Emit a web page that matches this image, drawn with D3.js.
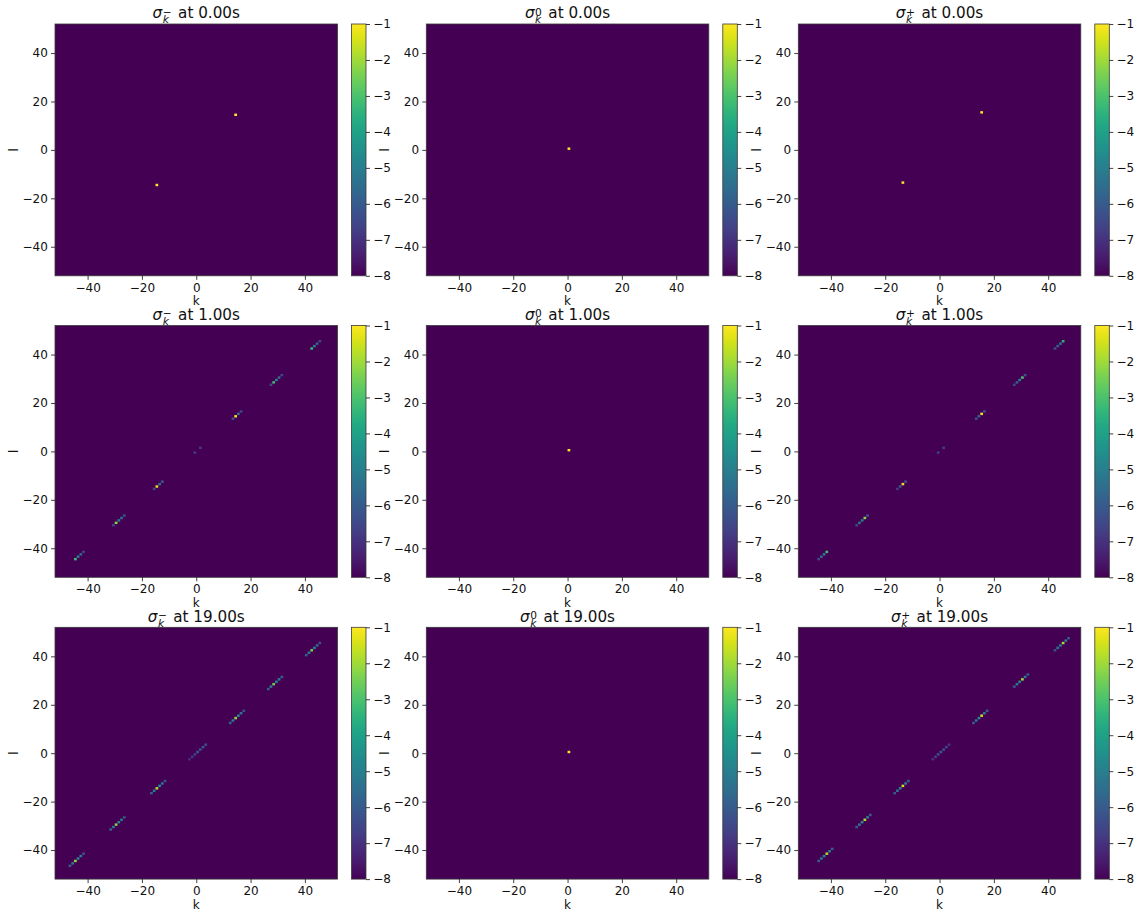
<!DOCTYPE html>
<html><head><meta charset="utf-8">
<script src="https://cdn.jsdelivr.net/npm/d3@7"></script>
<style>body{margin:0;background:#fff} text{font-family:"DejaVu Sans",sans-serif}</style>
</head><body><svg id="c" width="1140" height="912"></svg>
<script>
// ---------------- data ----------------
const times = ["0.00", "1.00", "19.00"];
const species = ["−", "0", "+"];
const kDomain = [-52, 52];
const xTicks = [-40, -20, 0, 20, 40];
const yTicks = [-40, -20, 0, 20, 40];
const cbarTicks = [-1, -2, -3, -4, -5, -6, -7, -8];
const vmin = -8, vmax = -1;          // colour range (log10 scale)
const floorValue = -8;               // value of every cell not listed below

// diagonal cells (k = l): cell index n spans [n, n+1]; values are log10
const minus_t0_k = [14, -15];
const minus_t0_v = [-1, -1];
const minus_t1_k = [-45,-44,-43,-42, -31,-30,-29,-28,-27, -16,-15,-14,-13, -1,1, 13,14,15,16, 27,28,29,30,31, 42,43,44,45];
const minus_t1_v = [-3.2,-5.0,-5.6,-6.5, -6.5,-2.2,-5.0,-5.5,-6.3, -6.5,-1.3,-5.5,-6.0, -6.8,-6.8, -6.3,-1.2,-5.5,-6.5, -6.5,-3.2,-5.0,-5.5,-6.5, -3.3,-5.0,-5.6,-6.5];
const minus_t19_k = [-47,-46,-45,-44,-43,-42, -32,-31,-30,-29,-28,-27, -17,-16,-15,-14,-13,-12, -3,-2,-1,0,1,2,3, 12,13,14,15,16,17, 26,27,28,29,30,31, 40,41,42,43,44,45];
const minus_t19_v = [-6.0,-5.0,-2.2,-4.8,-5.2,-6.2, -5.8,-5.0,-2.2,-4.8,-5.2,-6.2, -5.8,-5.0,-1.8,-4.6,-5.2,-6.2, -7.2,-6.8,-6.6,-6.0,-6.2,-6.0,-6.4, -5.8,-5.0,-2.2,-4.8,-5.2,-6.2, -6.0,-5.0,-2.5,-4.8,-5.0,-6.0, -6.0,-5.0,-2.5,-4.8,-5.5,-6.3];

const zero_t0_k = [0];  const zero_t0_v = [-1];
const zero_t1_k = [0];  const zero_t1_v = [-1];
const zero_t19_k = [0]; const zero_t19_v = [-1];

const plus_t0_k = [15, -14];
const plus_t0_v = [-1, -1];
const plus_t1_k = [-45,-44,-43,-42, -31,-30,-29,-28,-27, -16,-15,-14,-13, -1,1, 13,14,15,16, 27,28,29,30,31, 42,43,44,45];
const plus_t1_v = [-6.5,-5.5,-5.0,-3.2, -6.5,-5.5,-5.0,-2.3,-6.3, -6.8,-6.0,-1.3,-6.3, -6.7,-6.7, -6.2,-5.7,-1.2,-6.3, -6.5,-5.8,-5.0,-3.0,-6.3, -6.3,-5.8,-5.3,-3.5];
const plus_t19_k = [-45,-44,-43,-42,-41,-40, -31,-30,-29,-28,-27,-26, -17,-16,-15,-14,-13,-12, -3,-2,-1,0,1,2,3, 12,13,14,15,16,17, 27,28,29,30,31,32, 42,43,44,45,46,47];
const plus_t19_v = [-6.0,-5.2,-4.8,-1.8,-5.0,-6.0, -6.0,-5.2,-4.8,-1.8,-5.0,-6.0, -6.0,-5.2,-4.8,-1.5,-5.0,-6.0, -7.0,-6.6,-6.2,-6.0,-6.2,-6.6,-7.0, -6.0,-5.2,-4.8,-1.5,-5.0,-6.0, -6.0,-5.2,-4.8,-2.0,-5.0,-6.0, -6.2,-5.3,-5.0,-2.0,-5.0,-6.0];

const panelData = [
  [[minus_t0_k, minus_t0_v], [zero_t0_k, zero_t0_v], [plus_t0_k, plus_t0_v]],
  [[minus_t1_k, minus_t1_v], [zero_t1_k, zero_t1_v], [plus_t1_k, plus_t1_v]],
  [[minus_t19_k, minus_t19_v], [zero_t19_k, zero_t19_v], [plus_t19_k, plus_t19_v]]
];

// ---------------- layout ----------------
const colLeft = [55, 426.3, 798.3], plotW = 282.5;
const rowTop = [24, 325.5, 627.3], plotH = 251.8;
const cbGap = 14, cbW = 14.5;
const tickFont = 12, titleFont = 15.2;
const ink = "#111", spine = "#3a3a3a";

const svg = d3.select("#c");
const color = d3.scaleSequential(d3.interpolateViridis).domain([vmin, vmax]);
const x = d3.scaleLinear().domain(kDomain).range([0, plotW]);
const y = d3.scaleLinear().domain(kDomain).range([plotH, 0]);
const cb = d3.scaleLinear().domain([vmin, vmax]).range([plotH, 0]);
const fmt = d3.format("d");

// gradient for colorbar
const defs = svg.append("defs");
const grad = defs.append("linearGradient").attr("id", "vir").attr("x1", 0).attr("y1", 1).attr("x2", 0).attr("y2", 0);
d3.range(0, 1.0001, 0.02).forEach(t => grad.append("stop").attr("offset", t).attr("stop-color", d3.interpolateViridis(t)));

function styleAxis(g) {
  g.select(".domain").remove();
  g.selectAll(".tick line").attr("stroke", ink).attr("stroke-width", 0.8);
  g.selectAll(".tick text").attr("fill", ink).attr("font-size", tickFont).attr("font-family", "DejaVu Sans");
  g.attr("font-family", null).attr("font-size", null);
}

function drawTitle(cx, baseY, sup, t) {
  const g = svg.append("g");
  const sScript = titleFont * 0.7;
  const sig = g.append("text").attr("font-size", titleFont).attr("font-style", "italic").attr("fill", ink).text("σ");
  const supT = g.append("text").attr("font-size", sScript).attr("fill", ink).text(sup);
  const subT = g.append("text").attr("font-size", sScript).attr("font-style", "italic").attr("fill", ink).text("k");
  const rest = g.append("text").attr("font-size", titleFont).attr("fill", ink).text("at " + t + "s");
  const wS = sig.node().getComputedTextLength();
  const wScript = Math.max(supT.node().getComputedTextLength(), subT.node().getComputedTextLength());
  const wR = rest.node().getComputedTextLength();
  const gap = 6.5;
  const total = wS + 0.5 + wScript + gap + wR;
  const x0 = cx - total / 2;
  sig.attr("x", x0).attr("y", baseY);
  supT.attr("x", x0 + wS + 0.5).attr("y", baseY - 2.6);
  subT.attr("x", x0 + wS + 0.5).attr("y", baseY + 5);
  rest.attr("x", x0 + wS + 0.5 + wScript + gap).attr("y", baseY);
}

panelData.forEach((row, r) => {
  row.forEach((pd, c) => {
    const [ks, vs] = pd;
    const L = colLeft[c], T = rowTop[r];
    const g = svg.append("g").attr("transform", `translate(${L},${T})`);
    // floor value fills the grid
    g.append("rect").attr("x", x(kDomain[0])).attr("y", y(kDomain[1]))
      .attr("width", x(kDomain[1]) - x(kDomain[0])).attr("height", y(kDomain[0]) - y(kDomain[1]))
      .attr("fill", color(floorValue));
    const cells = ks.map((k, i) => ({ k: k, l: k, v: vs[i] }));
    g.selectAll("rect.cell").data(cells).enter().append("rect").attr("class", "cell")
      .attr("x", d => x(d.k)).attr("y", d => y(d.l + 1))
      .attr("width", d => x(d.k + 1) - x(d.k)).attr("height", d => y(d.l) - y(d.l + 1))
      .attr("fill", d => color(Math.max(vmin, Math.min(vmax, d.v))));
    g.append("rect").attr("width", plotW).attr("height", plotH).attr("fill", "none")
      .attr("stroke", spine).attr("stroke-width", 0.8);
    // axes
    g.append("g").attr("transform", `translate(0,${plotH})`)
      .call(d3.axisBottom(x).tickValues(xTicks).tickFormat(fmt).tickSize(4).tickPadding(3.2)).call(styleAxis);
    g.append("g").call(d3.axisLeft(y).tickValues(yTicks).tickFormat(fmt).tickSize(4).tickPadding(3.2)).call(styleAxis);
    g.append("text").attr("x", plotW / 2).attr("y", plotH + 29.5).attr("text-anchor", "middle")
      .attr("font-size", tickFont).attr("fill", ink).text("k");
    g.append("text").attr("transform", `translate(-37.5,${plotH / 2}) rotate(-90)`).attr("text-anchor", "middle")
      .attr("font-size", tickFont).attr("fill", ink).text("l");
    // colorbar
    const cbg = svg.append("g").attr("transform", `translate(${L + plotW + cbGap},${T})`);
    cbg.append("rect").attr("width", cbW).attr("height", plotH).attr("fill", "url(#vir)");
    cbg.append("rect").attr("width", cbW).attr("height", plotH).attr("fill", "none")
      .attr("stroke", spine).attr("stroke-width", 0.8);
    cbg.append("g").attr("transform", `translate(${cbW},0)`)
      .call(d3.axisRight(cb).tickValues(cbarTicks).tickFormat(fmt).tickSize(4).tickPadding(3.2)).call(styleAxis);
    drawTitle(L + plotW / 2, T - 5.6, species[c], times[r]);
  });
});
</script></body></html>
